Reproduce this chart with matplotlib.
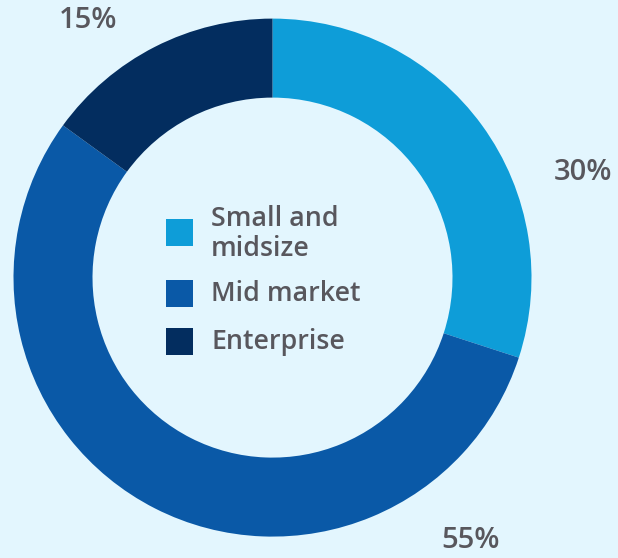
import matplotlib
matplotlib.use("Agg")
import matplotlib.pyplot as plt
from matplotlib.patches import Rectangle

categories = ["Small and\nmidsize", "Mid market", "Enterprise"]
values = [30, 55, 15]
pct_labels = ["30%", "55%", "15%"]
colors = ["#0E9DD8", "#0A59A7", "#032D5F"]

BG = "#E3F6FE"
TXT = "#58575D"
FONT = ["Open Sans", "DejaVu Sans"]

W, H = 618, 558
fig = plt.figure(figsize=(W / 100, H / 100), dpi=100, facecolor=BG)
ax = fig.add_axes([0, 0, 1, 1])
ax.set_facecolor(BG)

cx, cy, R = 272.5, H - 277.6, 259
ax.pie(values, colors=colors, startangle=90, counterclock=False,
       center=(cx, cy), radius=R, frame=True,
       wedgeprops=dict(width=79, linewidth=0))
ax.set_xlim(0, W)
ax.set_ylim(0, H)
ax.set_aspect("equal")
ax.axis("off")

# percentage labels (pixel positions, y measured from top)
label_pos = [(583, 173), (471, 540.5), (88.5, 21)]
for (x, y), t in zip(label_pos, pct_labels):
    ax.text(x, H - y, t, ha="center", va="center", fontsize=21,
            fontweight="semibold", color=TXT, family=FONT)

# legend inside donut
sq = 27
sq_top = [219, 280, 328]
text_y = [234, 294, 342]
for c, lab, st, ty in zip(colors, categories, sq_top, text_y):
    ax.add_patch(Rectangle((166, H - st - sq), sq, sq, facecolor=c, edgecolor="none"))
    ax.text(211, H - ty, lab, ha="left", va="center", fontsize=19.3,
            fontweight="semibold", color=TXT, family=FONT, linespacing=1.05)

fig.savefig("out.png", dpi=100, facecolor=BG)
